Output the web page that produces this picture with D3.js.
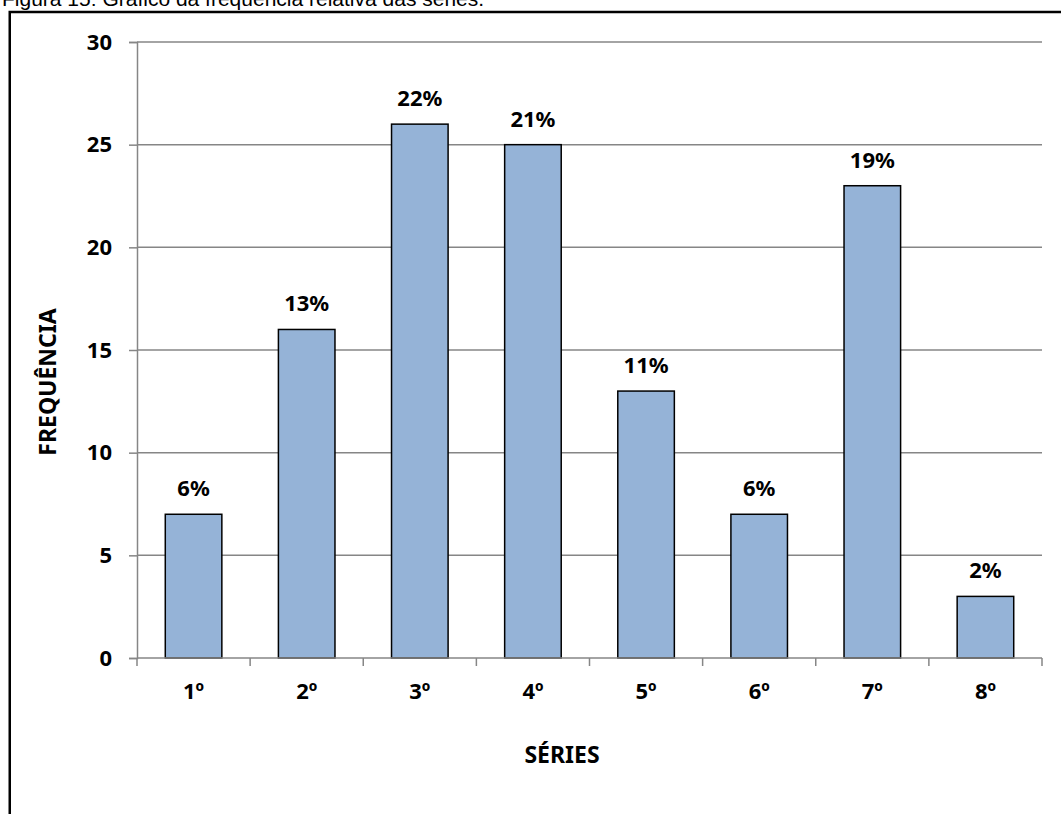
<!DOCTYPE html>
<html>
<head>
<meta charset="utf-8">
<script src="https://cdn.jsdelivr.net/npm/d3@7"></script>
<style>
  body { margin: 0; background: #fff; }
  svg { display: block; }
</style>
</head>
<body>
<div id="chart"></div>
<script>
const series = ['1º', '2º', '3º', '4º', '5º', '6º', '7º', '8º'];
const frequencia = [7, 16, 26, 25, 13, 7, 23, 3];
const percentLabels = ['6%', '13%', '22%', '21%', '11%', '6%', '19%', '2%'];
const yTicks = [0, 5, 10, 15, 20, 25, 30];
const caption = 'Figura 15: Gráfico da frequência relativa das séries.';

const W = 1061, H = 814;
const margin = {top: 42, right: 19, bottom: 156, left: 137},
    width = W - margin.left - margin.right,
    height = H - margin.top - margin.bottom;

const svg = d3.select('#chart')
    .append('svg')
    .attr('width', W)
    .attr('height', H);

// caption, cut at the top like the scanned page
svg.append('text')
    .attr('x', 2)
    .attr('y', 6)
    .style('font-family', 'Liberation Sans, Arial, sans-serif')
    .style('font-size', '21px')
    .style('fill', '#000')
    .text(caption);

// outer frame
svg.append('rect')
    .attr('x', 9.75)
    .attr('y', 12)
    .attr('width', W + 20)
    .attr('height', H + 20)
    .style('fill', 'none')
    .style('stroke', '#000')
    .style('stroke-width', 2.5);

const g = svg.append('g')
    .attr('transform', `translate(${margin.left},${margin.top})`);

const x = d3.scaleBand().domain(series).range([0, width]).paddingInner(0.5).paddingOuter(0.25);
const y = d3.scaleLinear().domain([0, 30]).range([height, 0]);

const font = 'Noto Sans, Open Sans, sans-serif';
const grey = '#868686';

// grid lines
g.append('g')
    .selectAll('line')
    .data(yTicks.filter(d => d > 0))
    .enter().append('line')
    .attr('x1', 0)
    .attr('x2', width)
    .attr('y1', d => y(d))
    .attr('y2', d => y(d))
    .style('stroke', grey)
    .style('stroke-width', 1.5);

// y axis
const yAxis = g.append('g')
    .call(d3.axisLeft(y).tickValues(yTicks).tickSize(8).tickPadding(17));
yAxis.select('.domain').style('stroke', grey).style('stroke-width', 1.5);
yAxis.selectAll('.tick line').style('stroke', grey).style('stroke-width', 1.5);
yAxis.selectAll('.tick text')
    .style('font-family', font)
    .style('font-size', '22px')
    .style('font-weight', 'bold')
    .style('fill', '#000');

// bars
g.selectAll('.bar')
    .data(frequencia)
    .enter().append('rect')
    .attr('class', 'bar')
    .attr('x', (d, i) => x(series[i]))
    .attr('y', d => y(d))
    .attr('width', x.bandwidth())
    .attr('height', d => height - y(d))
    .style('fill', '#95b3d7')
    .style('stroke', '#000')
    .style('stroke-width', 1.5);

// x axis, ticks between the categories
const boundaries = d3.range(series.length + 1).map(i => i * width / series.length);
const xg = g.append('g').attr('transform', `translate(0,${height})`);
xg.append('line')
    .attr('x1', 0).attr('x2', width)
    .style('stroke', grey).style('stroke-width', 1.5);
xg.selectAll('.xtick')
    .data(boundaries)
    .enter().append('line')
    .attr('class', 'xtick')
    .attr('x1', d => d).attr('x2', d => d)
    .attr('y1', 0).attr('y2', 8)
    .style('stroke', grey).style('stroke-width', 1.5);
xg.selectAll('.xlabel')
    .data(series)
    .enter().append('text')
    .attr('class', 'xlabel')
    .attr('x', d => x(d) + x.bandwidth() / 2)
    .attr('y', 41)
    .style('text-anchor', 'middle')
    .style('font-family', font)
    .style('font-size', '22px')
    .style('font-weight', 'bold')
    .text(d => d);

// percentage labels
g.selectAll('.pct')
    .data(frequencia)
    .enter().append('text')
    .attr('class', 'pct')
    .attr('x', (d, i) => x(series[i]) + x.bandwidth() / 2)
    .attr('y', d => y(d) - 18)
    .style('text-anchor', 'middle')
    .style('font-family', font)
    .style('font-size', '22px')
    .style('font-weight', 'bold')
    .text((d, i) => percentLabels[i]);

// axis titles
g.append('text')
    .attr('x', 425)
    .attr('y', height + 105)
    .style('text-anchor', 'middle')
    .style('font-family', font)
    .style('font-size', '23px')
    .style('font-weight', 'bold')
    .text('SÉRIES');

g.append('text')
    .attr('transform', 'rotate(-90)')
    .attr('x', -(height / 2) - 32)
    .attr('y', -81)
    .style('text-anchor', 'middle')
    .style('font-family', font)
    .style('font-size', '23px')
    .style('font-weight', 'bold')
    .text('FREQUÊNCIA');
</script>
</body>
</html>
